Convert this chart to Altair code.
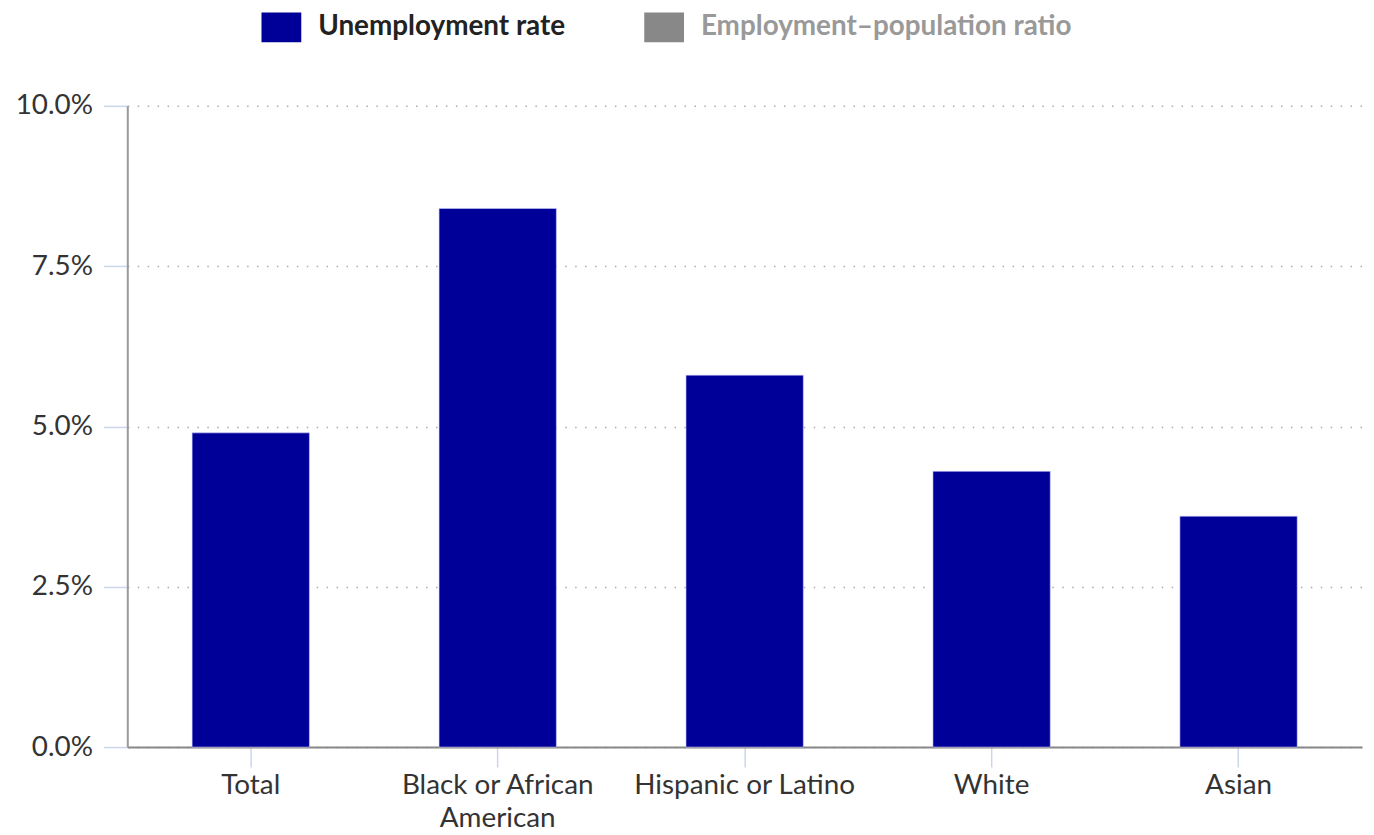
import altair as alt
import pandas as pd

categories = ["Total", "Black or African American", "Hispanic or Latino", "White", "Asian"]
unemployment = [4.9, 8.4, 5.8, 4.3, 3.6]
series_names = ["Unemployment rate", "Employment\u2013population ratio"]
series_colors = ["#000099", "#888888"]
y_ticks = [0, 2.5, 5, 7.5, 10]

df = pd.DataFrame({
    "category": categories,
    "value": unemployment,
    "series": [series_names[0]] * len(categories),
})

FONT = "Lato"

chart = alt.Chart(df).mark_bar(size=118, stroke="#ccccff", strokeWidth=0.6).encode(
    x=alt.X("category:N", sort=categories, title=None,
            scale=alt.Scale(paddingInner=0.0, paddingOuter=0.0),
            axis=alt.Axis(labelAngle=0, labelFont=FONT, labelFontSize=28, labelColor="#333333",
                          labelExpr="datum.label == 'Black or African American' ? ['Black or African', 'American'] : datum.label",
                          labelLineHeight=33, labelPadding=5, labelLimit=400,
                          tickSize=20, tickColor="#ccd6eb", tickWidth=1.5,
                          domainColor="#888888", domainWidth=2, grid=False)),
    y=alt.Y("value:Q", title=None,
            scale=alt.Scale(domain=[0, 10], nice=False),
            axis=alt.Axis(values=y_ticks, labelExpr="format(datum.value, '.1f') + '%'",
                          labelFont=FONT, labelFontSize=28, labelColor="#333333",
                          labelPadding=11, tickSize=24, tickColor="#ccd6eb", tickWidth=1.5,
                          domainColor="#999999", domainWidth=2,
                          grid=True, gridColor="#aaaaaa", gridDash=[1.5, 8.5], gridWidth=1.5)),
    color=alt.Color("series:N",
                    scale=alt.Scale(domain=series_names, range=series_colors),
                    legend=alt.Legend(title=None, orient="none", direction="horizontal",
                                      legendX=135, legendY=-99,
                                      symbolType="M-1,-0.75L1,-0.75L1,0.75L-1,0.75Z",
                                      symbolSize=1600, symbolStrokeWidth=0,
                                      labelFont=FONT, labelFontSize=28, labelFontWeight="bold",
                                      labelOffset=17, columnPadding=79, labelLimit=600,
                                      symbolOpacity=1,
                                      labelColor=alt.ExprRef(expr="datum.label == 'Unemployment rate' ? '#222222' : '#999999'"))),
).properties(
    width=1242, height=645,
    autosize=alt.AutoSizeParams(type="none"),
    padding={"left": 120, "top": 96, "right": 4, "bottom": 78},
).configure_view(stroke=None)

chart.save("out.html", embed_options={"renderer": "svg", "actions": False})
